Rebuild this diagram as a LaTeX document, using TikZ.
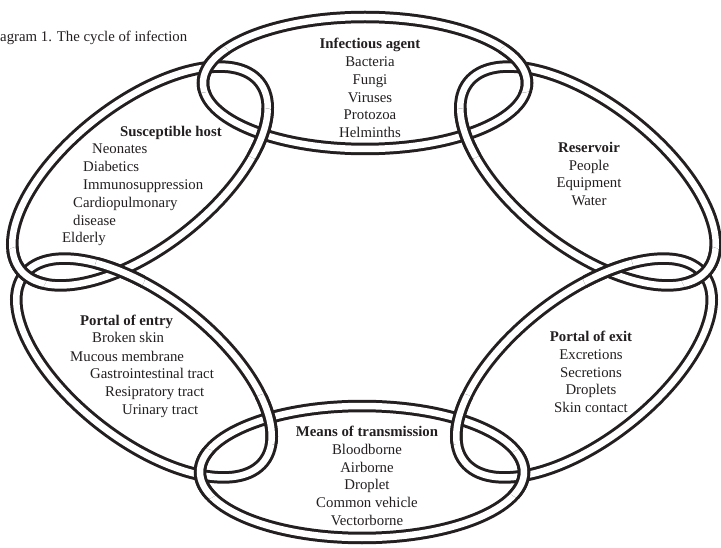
\documentclass[tikz,border=0pt]{standalone}
\usepackage{fontspec}
\setmainfont{Liberation Serif}
\definecolor{ink}{RGB}{35,31,32}
% one ring of the chain: outer dark band with a white core
\newcommand\chainlink[2]{%
  \begin{scope}[#1]
    \draw[bandout] (0,0) ellipse [#2];
    \draw[bandin] (0,0) ellipse [#2];
  \end{scope}}
% redraw a ring on top inside a small disc around a crossing
\newcommand\overat[3]{%
  \begin{scope}
    \clip (#1) circle [radius=26];
    \chainlink{#2}{#3}
  \end{scope}}
\begin{document}
\begin{tikzpicture}[x=1pt,y=-1pt,
  bandout/.style={draw=ink, line width=12.5pt},
  bandin/.style={draw=white, line width=6.5pt},
  flat/.style={x radius=162, y radius=66},
  slant/.style={x radius=152, y radius=72},
  posT/.style={shift={(365,83)}},
  posB/.style={shift={(362,472)}},
  posH/.style={shift={(140,176)}, rotate=38},
  posE/.style={shift={(144,368)}, rotate=-38},
  posR/.style={shift={(588,176)}, rotate=-38},
  posX/.style={shift={(584,368)}, rotate=38},
  txt/.style={font=\fontsize{14.8}{17.8}\selectfont, text=ink, inner sep=0pt},
  head/.style={txt, font=\fontsize{14.8}{17.8}\selectfont\bfseries},
  block/.style={txt, align=center}]
\fill[white] (0,0) rectangle (721,548);
\useasboundingbox (0,0) rectangle (721,548);

% the six rings
\chainlink{posT}{flat}
\chainlink{posR}{slant}
\chainlink{posX}{slant}
\chainlink{posB}{flat}
\chainlink{posE}{slant}
\chainlink{posH}{slant}

% crossings
\coordinate (cTH1) at (208,67);
\coordinate (cTH2) at (263,134);
\coordinate (cTR1) at (520,67);
\coordinate (cTR2) at (465,134);
\coordinate (cBE1) at (270,419);
\coordinate (cBE2) at (201,474);
\coordinate (cBX1) at (458,419);
\coordinate (cBX2) at (527,474);
\coordinate (cHE1) at (22,272);
\coordinate (cHE2) at (120,272);
\coordinate (cRX1) at (706,272);
\coordinate (cRX2) at (608,272);

\overat{cTH1}{posT}{flat}
\overat{cTH2}{posH}{slant}
\overat{cTR1}{posT}{flat}
\overat{cTR2}{posR}{slant}
\overat{cBE1}{posE}{slant}
\overat{cBE2}{posB}{flat}
\overat{cBX1}{posX}{slant}
\overat{cBX2}{posB}{flat}
\overat{cHE1}{posH}{slant}
\overat{cHE2}{posE}{slant}
\overat{cRX1}{posR}{slant}
\overat{cRX2}{posX}{slant}

% caption
\node[txt, anchor=base west] (caption) at (0,41.5) {agram 1. The cycle of infection};

% infectious agent
\node[block] (agent) at (370,88) {\textbf{Infectious agent}\\Bacteria\\Fungi\\Viruses\\Protozoa\\Helminths};

% reservoir
\node[block] (reservoir) at (589,174) {\textbf{Reservoir}\\People\\Equipment\\Water};

% portal of exit
\node[block] (exit) at (591,372) {\textbf{Portal of exit}\\Excretions\\Secretions\\Droplets\\Skin contact};

% means of transmission
\node[block] (means) at (367,476) {\textbf{Means of transmission}\\Bloodborne\\Airborne\\Droplet\\Common vehicle\\Vectorborne};

% susceptible host
\node[head, anchor=base west] (hostT) at (120,136.2) {Susceptible host};
\node[txt, anchor=base west] (host1) at (92,153.8) {Neonates};
\node[txt, anchor=base west] (host2) at (83,171.2) {Diabetics};
\node[txt, anchor=base west] (host3) at (83,189.5) {Immunosuppression};
\node[txt, anchor=base west] (host4) at (73,207.8) {Cardiopulmonary};
\node[txt, anchor=base west] (host5) at (73,225.2) {disease};
\node[txt, anchor=base west] (host6) at (62,242.8) {Elderly};

% portal of entry
\node[head, anchor=base west] (entryT) at (80,325.2) {Portal of entry};
\node[txt, anchor=base west] (entry1) at (92,342.8) {Broken skin};
\node[txt, anchor=base west] (entry2) at (70,361.2) {Mucous membrane};
\node[txt, anchor=base west] (entry3) at (90,378.8) {Gastrointestinal tract};
\node[txt, anchor=base west] (entry4) at (105,396.8) {Resipratory tract};
\node[txt, anchor=base west] (entry5) at (122,414.5) {Urinary tract};
\end{tikzpicture}
\end{document}
